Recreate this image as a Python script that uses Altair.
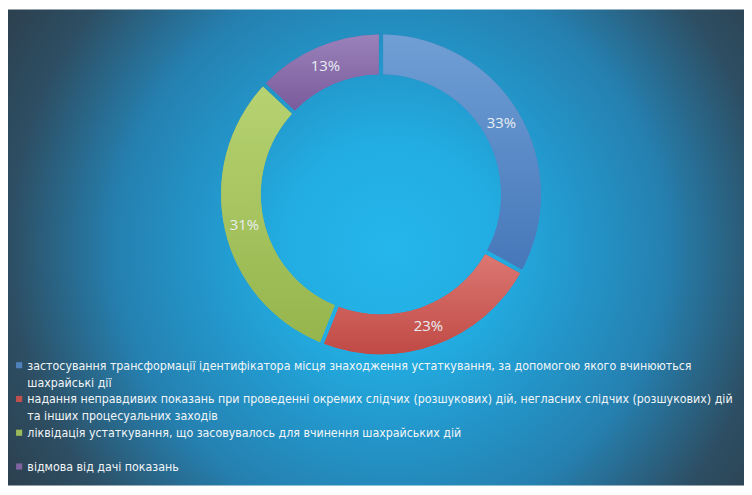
import altair as alt
import pandas as pd

categories = [
    "застосування трансформації ідентифікатора місця знаходження устаткування, за допомогою якого вчинюються\nшахрайські дії",
    "надання неправдивих показань при проведенні окремих слідчих (розшукових) дій, негласних слідчих (розшукових) дій\nта інших процесуальних заходів",
    "ліквідація устаткування, що засовувалось для вчинення шахрайських дій\n ",
    "відмова від дачі показань",
]
values = [33, 23, 31, 13]
order = [1, 2, 3, 4]
legend_colors = ["#4f81bd", "#c0504d", "#9bbb59", "#8064a2"]
top_colors = ["#709fd5", "#dc7772", "#b6d272", "#9a82ba"]
bottom_colors = ["#4677b9", "#c04a45", "#96b54c", "#7a5a9c"]

W, H = 741, 479
CX, CY = 375.5, 186
R_OUT, R_IN, R_LAB = 161, 121, 141
LEGEND_FONT = "Liberation Sans Narrow, DejaVu Sans Condensed, Liberation Sans"

df = pd.DataFrame({"category": categories, "value": values, "order": order})

color_scale = alt.Scale(domain=categories, range=legend_colors)
theta_scale = alt.Scale(domain=[0, 100])

base = alt.Chart(df).transform_window(
    cum="sum(value)", sort=[alt.SortField("order")]
).transform_calculate(
    start="datum.cum - datum.value",
    mid="datum.cum - datum.value / 2",
    pct="datum.value + '%'",
)

bg = alt.Chart(alt.Data(values=[{"bg": 1}])).mark_rect(
    fill=alt.Gradient(
        gradient="radial",
        stops=[
            alt.GradientStop(color="#25b6eb", offset=0),
            alt.GradientStop(color="#22ade2", offset=0.2),
            alt.GradientStop(color="#2398cc", offset=0.34),
            alt.GradientStop(color="#2580b0", offset=0.52),
            alt.GradientStop(color="#2d4e63", offset=0.72),
            alt.GradientStop(color="#2c3038", offset=1),
        ],
        x1=0.52, y1=0.5, x2=0.52, y2=0.5, r1=0, r2=0.72,
    )
).encode(
    x=alt.value(0), x2=alt.value(W), y=alt.value(0), y2=alt.value(H)
)

arc_base = base.mark_arc(
    outerRadius=R_OUT, innerRadius=R_IN, padAngle=0.022
).encode(
    theta=alt.Theta("start:Q", scale=theta_scale, stack=None),
    theta2="cum:Q",
    color=alt.Color("category:N", scale=color_scale, legend=None),
    x=alt.value(CX),
    y=alt.value(CY),
)

grad_layers = []
for cat, c_top, c_bot in zip(categories, top_colors, bottom_colors):
    grad_layers.append(
        base.transform_filter(alt.datum.category == cat).mark_arc(
            outerRadius=R_OUT, innerRadius=R_IN, padAngle=0.022,
            fill=alt.Gradient(
                gradient="linear",
                stops=[
                    alt.GradientStop(color=c_top, offset=0),
                    alt.GradientStop(color=c_bot, offset=1),
                ],
                x1=0, y1=0, x2=0, y2=1,
            ),
        ).encode(
            theta=alt.Theta("start:Q", scale=theta_scale, stack=None),
            theta2="cum:Q",
            x=alt.value(CX),
            y=alt.value(CY),
        )
    )

labels = base.mark_text(
    radius=R_LAB, font="Open Sans", fontSize=15, color="#e8eef2"
).encode(
    theta=alt.Theta("mid:Q", scale=theta_scale, stack=None),
    text="pct:N",
    x=alt.value(CX),
    y=alt.value(CY),
)

# legend drawn from the same category list: one line slot per text line
legend_base = alt.Chart(df).transform_calculate(
    lines="split(datum.category, '\\n')"
).transform_calculate(
    nlines="length(datum.lines)"
).transform_window(
    line_end="sum(nlines)", sort=[alt.SortField("order")]
).transform_calculate(
    line_start="datum.line_end - datum.nlines"
)

y_enc = alt.Y(
    "line_start:Q",
    scale=alt.Scale(domain=[0, 6], range=[350.5, 452.5]),
    axis=None,
)

legend_text = legend_base.mark_text(
    align="left", baseline="line-top", lineHeight=17,
    font=LEGEND_FONT, fontSize=12.4, color="#f2f6f9",
).encode(x=alt.value(19.5), y=y_enc, text="lines:N")

legend_sym = legend_base.mark_square(size=38, opacity=1, yOffset=7.5).encode(
    x=alt.value(11.2),
    y=y_enc,
    color=alt.Color("category:N", scale=color_scale, legend=None),
)

chart = alt.layer(
    bg, arc_base, *grad_layers, labels, legend_sym, legend_text
).properties(
    width=W, height=H, padding=0, autosize=alt.AutoSizeParams(type="none")
).configure_view(stroke=None)

chart.save("out.html", embed_options={"renderer": "svg", "actions": False})
